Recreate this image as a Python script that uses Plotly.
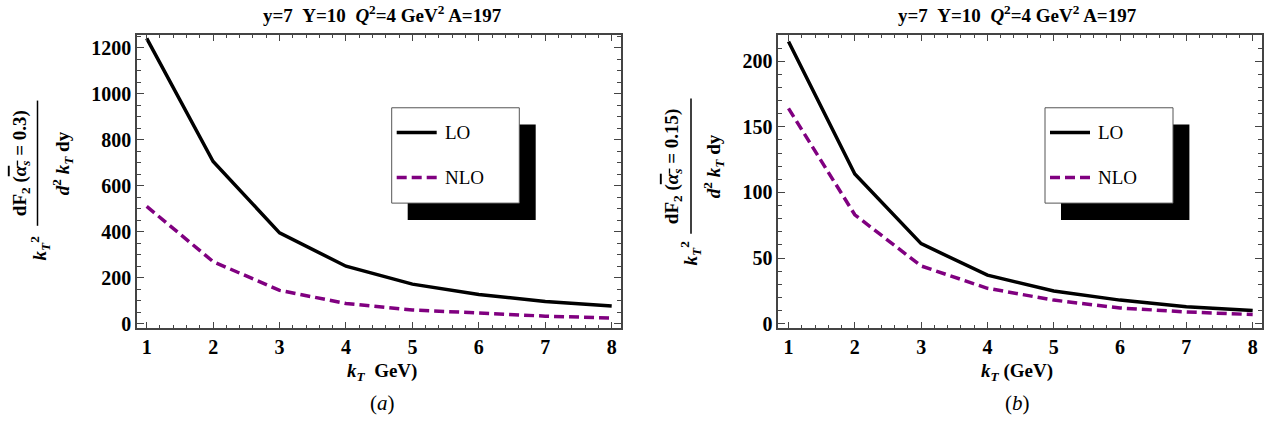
import plotly.graph_objects as go

W, H = 1274, 429

kT = [1, 2, 3, 4, 5, 6, 7, 8]
lo_a = [1240, 705, 395, 250, 172, 127, 97, 77]
nlo_a = [510, 270, 145, 88, 60, 45, 33, 25]
lo_b = [215, 114, 61, 37, 25, 18, 13, 10]
nlo_b = [164, 83, 44, 27, 18, 12, 9, 7]

x_ticks = [1, 2, 3, 4, 5, 6, 7, 8]
y_ticks_a = [0, 200, 400, 600, 800, 1000, 1200]
y_ticks_b = [0, 50, 100, 150, 200]

title_txt = "<b>y=7\u00a0\u00a0Y=10\u00a0\u00a0<i>Q</i><sup>2</sup>=4 GeV<sup>2</sup> A=197</b>"
xlab_a = "<b><i>k</i><sub><i>T</i></sub>\u00a0\u00a0GeV)</b>"
xlab_b = "<b><i>k</i><sub><i>T</i></sub>\u00a0(GeV)</b>"
num_a = "<b>dF<sub>2</sub>\u00a0(<span style='text-decoration:overline'><i>α</i><sub><i>s</i></sub></span>\u00a0=\u00a00.3)</b>"
num_b = "<b>dF<sub>2</sub>\u00a0(<span style='text-decoration:overline'><i>α</i><sub><i>s</i></sub></span>\u00a0=\u00a00.15)</b>"
den = "<b><i>d</i><sup>2</sup>\u00a0<i>k</i><sub><i>T</i></sub>\u00a0dy</b>"
kt2 = "<b><i>k</i><sub><i>T</i></sub><sup>2</sup></b>"

PURPLE = "#800080"
FONT = "'Liberation Serif', 'Times New Roman', Times, serif"

def px(x):
    return x / W

def py(y):
    return 1 - y / H

fig = go.Figure()
fig.add_trace(go.Scatter(x=kT, y=lo_a, mode="lines", line=dict(color="black", width=3.5),
                         xaxis="x", yaxis="y", showlegend=False))
fig.add_trace(go.Scatter(x=kT, y=nlo_a, mode="lines", line=dict(color=PURPLE, width=3.5, dash="10px,5px"),
                         xaxis="x", yaxis="y", showlegend=False))
fig.add_trace(go.Scatter(x=kT, y=lo_b, mode="lines", line=dict(color="black", width=3.5),
                         xaxis="x2", yaxis="y2", showlegend=False))
fig.add_trace(go.Scatter(x=kT, y=nlo_b, mode="lines", line=dict(color=PURPLE, width=3.5, dash="10px,5px"),
                         xaxis="x2", yaxis="y2", showlegend=False))

tickfont = dict(family=FONT, size=20, color="black", weight="bold")
axcommon = dict(showgrid=False, zeroline=False, showline=True, mirror="ticks",
                linecolor="#444", linewidth=1.5, ticks="inside", ticklen=7, tickwidth=1.2,
                tickcolor="#444", tickfont=tickfont)

fig.update_layout(
    width=W, height=H, margin=dict(l=0, r=0, t=0, b=0),
    paper_bgcolor="white", plot_bgcolor="white",
    xaxis=dict(domain=[px(137), px(621)], range=[0.854, 8.14], anchor="y",
               tickvals=x_ticks, minor=dict(ticks="inside", dtick=0.2, ticklen=4, tickcolor="#444"),
               **axcommon),
    yaxis=dict(domain=[py(333), py(35)], range=[-20, 1257], anchor="x",
               tickvals=y_ticks_a, minor=dict(ticks="inside", dtick=50, ticklen=4, tickcolor="#444"),
               **axcommon),
    xaxis2=dict(domain=[px(778.3), px(1261.7)], range=[0.846, 8.136], anchor="y2",
                tickvals=x_ticks, minor=dict(ticks="inside", dtick=0.2, ticklen=4, tickcolor="#444"),
                **axcommon),
    yaxis2=dict(domain=[py(333), py(35)], range=[-3.5, 220.3], anchor="x2",
                tickvals=y_ticks_b, minor=dict(ticks="inside", dtick=10, ticklen=4, tickcolor="#444"),
                **axcommon),
)

shapes = []
annots = []

def legend(bx0, bx1, by0, by1):
    shapes.append(dict(type="rect", xref="paper", yref="paper",
                       x0=px(bx0 + 16), x1=px(bx1 + 16.4), y0=py(by0 + 17), y1=py(by1 + 17),
                       fillcolor="black", line=dict(width=0), layer="above"))
    shapes.append(dict(type="rect", xref="paper", yref="paper",
                       x0=px(bx0), x1=px(bx1), y0=py(by0), y1=py(by1),
                       fillcolor="white", line=dict(color="#555", width=1), layer="above"))
    shapes.append(dict(type="line", xref="paper", yref="paper",
                       x0=px(bx0 + 5), x1=px(bx0 + 45), y0=py(134.3), y1=py(134.3),
                       line=dict(color="black", width=3.5), layer="above"))
    shapes.append(dict(type="line", xref="paper", yref="paper",
                       x0=px(bx0 + 5), x1=px(bx0 + 45), y0=py(180), y1=py(180),
                       line=dict(color=PURPLE, width=3.5, dash="10px,5px"), layer="above"))
    annots.append(dict(text="LO", xref="paper", yref="paper", x=px(bx0 + 51), y=py(134.5),
                       xanchor="left", yanchor="middle", showarrow=False,
                       font=dict(family=FONT, size=19, color="black")))
    annots.append(dict(text="NLO", xref="paper", yref="paper", x=px(bx0 + 51), y=py(180.5),
                       xanchor="left", yanchor="middle", showarrow=False,
                       font=dict(family=FONT, size=19, color="black")))

legend(391.7, 519.3, 109.3, 206)
legend(1045, 1173, 109.3, 206)

labfont = dict(family=FONT, size=19, color="black")

def side(num, xnum, xline, xden, xkt, y0, y1, ykt):
    yc = (y0 + y1) / 2
    annots.append(dict(text=num, xref="paper", yref="paper", x=px(xnum), y=py(yc),
                       xanchor="center", yanchor="middle", textangle=-90, showarrow=False, font=labfont))
    annots.append(dict(text=den, xref="paper", yref="paper", x=px(xden), y=py(yc),
                       xanchor="center", yanchor="middle", textangle=-90, showarrow=False, font=labfont))
    annots.append(dict(text=kt2, xref="paper", yref="paper", x=px(xkt), y=py(ykt),
                       xanchor="center", yanchor="middle", textangle=-90, showarrow=False, font=labfont))
    shapes.append(dict(type="line", xref="paper", yref="paper", x0=px(xline), x1=px(xline),
                       y0=py(y0), y1=py(y1), line=dict(color="black", width=1.5)))

side(num_a, 21, 37.5, 62, 40, 102, 229, 252)
side(num_b, 673, 691, 713, 690, 100, 237, 257)

for cx, xl, sub in [(382, xlab_a, "(<i>a</i>)"), (1017, xlab_b, "(<i>b</i>)")]:
    annots.append(dict(text=title_txt, xref="paper", yref="paper", x=px(cx), y=py(14),
                       xanchor="center", yanchor="middle", showarrow=False,
                       font=dict(family=FONT, size=19, color="black")))
    annots.append(dict(text=xl, xref="paper", yref="paper", x=px(cx), y=py(377),
                       xanchor="center", yanchor="middle", showarrow=False,
                       font=dict(family=FONT, size=19, color="black")))
    annots.append(dict(text=sub, xref="paper", yref="paper", x=px(cx), y=py(409),
                       xanchor="center", yanchor="middle", showarrow=False,
                       font=dict(family=FONT, size=21, color="black")))

fig.update_layout(shapes=shapes, annotations=annots)
fig.write_html("out.html")
